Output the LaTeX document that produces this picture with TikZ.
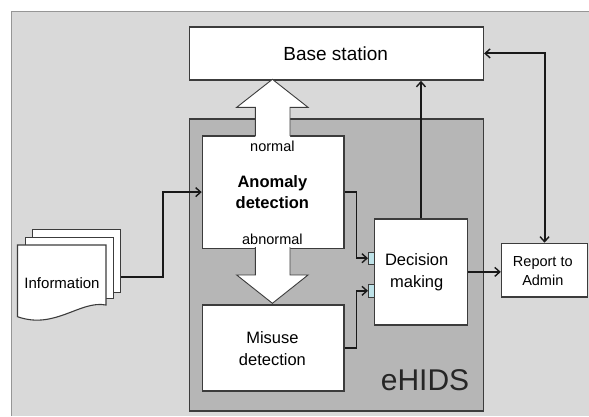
\documentclass[tikz,border=0pt]{standalone}
\usepackage{fontspec}
\setmainfont{Liberation Sans}
\usetikzlibrary{arrows.meta,calc}
\definecolor{bgouter}{RGB}{217,217,217}
\definecolor{bgouterline}{RGB}{150,150,150}
\definecolor{ehidsfill}{RGB}{182,182,182}
\definecolor{boxline}{RGB}{60,60,60}
\definecolor{portfill}{RGB}{190,226,232}
\definecolor{connline}{RGB}{25,25,25}
\newcommand{\fs}[2]{\fontsize{#1}{#2}\selectfont}
\tikzset{
  box/.style={draw=boxline, line width=1.5pt, fill=white, inner sep=0pt, anchor=north west, align=center},
  conn/.style={draw=connline, line width=1.9pt, -{Straight Barb[length=5pt,width=9pt,line width=1.4pt]}},
  bigarrow/.style={draw=boxline, line width=0.9pt},
  port/.style={draw=boxline, line width=0.7pt, fill=portfill, inner sep=0pt, minimum width=5.8pt, minimum height=12.3pt, anchor=north west},
  sheet/.style={draw=boxline, line width=1.1pt, fill=white},
}
\begin{document}
\begin{tikzpicture}[x=1pt,y=-1pt]
\useasboundingbox (0,0) rectangle (589,416);
% outer background
\fill[bgouter] (11.3,11.7) rectangle (589,416);
\draw[bgouterline, line width=1.4pt] (11.3,416) -- (11.3,11.7) -- (589,11.7);
% eHIDS container
\node[draw=boxline, line width=1.5pt, fill=ehidsfill, inner sep=0pt, anchor=north west,
      minimum width=294pt, minimum height=291.7pt] (ehids) at (188.6,118.3) {};
\node[font=\fs{30}{32}, text=black!85] (ehidslbl) at (425,380) {eHIDS};
% base station
\node[box, minimum width=294pt, minimum height=53.3pt] (base) at (188.6,26) {};
\node[font=\fs{19}{22}] (basetxt) at (335.7,53.3) {Base station};
% anomaly detection
\node[box, minimum width=141.3pt, minimum height=112.7pt] (anom) at (201.7,135) {};
\node[font=\bfseries\fs{16.5}{21}, align=center] (anomtxt) at (272.4,192.2) {Anomaly\\detection};
% misuse detection
\node[box, minimum width=141.3pt, minimum height=86pt] (mis) at (201.7,304) {};
\node[font=\fs{16.5}{22}, align=center] (mistxt) at (272.4,348.3) {Misuse\\detection};
% decision making
\node[box, minimum width=92.8pt, minimum height=105.7pt] (dec) at (373.8,218.3) {};
\node[font=\fs{16.5}{22}, align=center] (dectxt) at (416.7,272) {Decision\\making};
% report to admin
\node[box, minimum width=86pt, minimum height=53.3pt] (rep) at (500.8,242.7) {};
\node[font=\fs{14.5}{18.3}, align=center] (reptxt) at (542.8,271) {Report to\\Admin};
% ports
\node[port] (port1) at (368,251.7) {};
\node[port] (port2) at (368,284.3) {};
% big arrows
\fill[white] (255.4,140) -- (255.4,107.3) -- (236.7,107.3) -- (272.4,79.3) -- (308,107.3) -- (290,107.3) -- (290,140) -- cycle;
\draw[bigarrow] (255.4,135.8) -- (255.4,107.3) -- (236.7,107.3) -- (272.4,79.3) -- (308,107.3) -- (290,107.3) -- (290,135.8);
\fill[white] (255.4,243) -- (255.4,275) -- (236.7,275) -- (272.4,303.3) -- (308,275) -- (290,275) -- (290,243) -- cycle;
\draw[bigarrow] (255.4,247) -- (255.4,275) -- (236.7,275) -- (272.4,303.3) -- (308,275) -- (290,275) -- (290,247);
\node[font=\fs{14.5}{16}] (normal) at (272.4,146.7) {normal};
\node[font=\fs{14.5}{16}, fill=white, inner sep=0.5pt] (abnormal) at (272.4,239.6) {abnormal};
% information documents
\node[sheet, minimum width=88.3pt, minimum height=62.4pt, anchor=north west, inner sep=0pt] (info1) at (31.7,229.3) {};
\node[sheet, minimum width=87.7pt, minimum height=61pt, anchor=north west, inner sep=0pt] (info2) at (25,237.3) {};
\draw[sheet] (17.5,245) -- (106,245) -- (106,305)
  .. controls (80,300) and (55,330) .. (17.5,316.7) -- cycle;
\node[font=\fs{15}{17}] (info) at (62,283.3) {Information};
% connectors
\draw[conn] ([yshift=-15.5pt]info1.east) -- ++(41.5,0) |- (anom.west);
\draw[conn] (anom.east) -- ++(12,0) |- (port1.west);
\draw[conn] (mis.east) -- ++(12,0) |- (port2.west);
\draw[conn] (dec.north) -- (dec.north |- base.south);
\draw[conn] (dec.east) -- (dec.east -| rep.west);
\draw[conn, {Straight Barb[length=5pt,width=9pt,line width=1.4pt]}-{Straight Barb[length=5pt,width=9pt,line width=1.4pt]}] (base.east) -| (rep.north);
\end{tikzpicture}
\end{document}
